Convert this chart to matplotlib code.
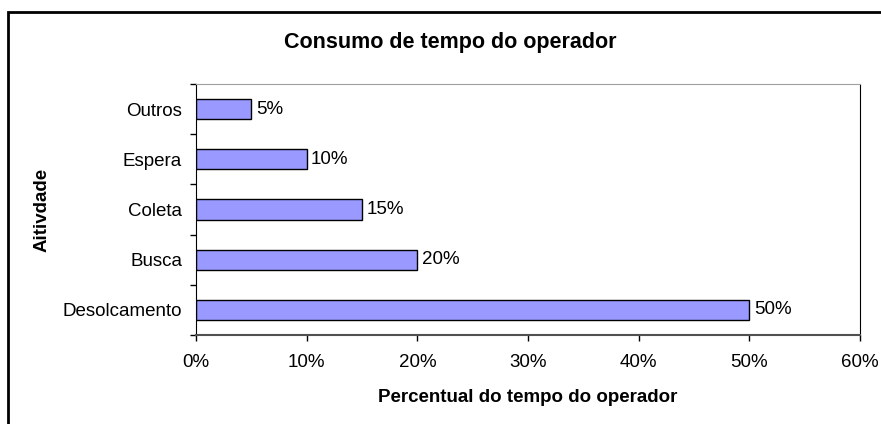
import matplotlib
matplotlib.use("Agg")
import matplotlib.pyplot as plt
from matplotlib.patches import Rectangle
from matplotlib.ticker import FuncFormatter

plt.rcParams['font.family'] = ['Liberation Sans', 'DejaVu Sans']

# data (bottom to top)
activities = ['Desolcamento', 'Busca', 'Coleta', 'Espera', 'Outros']
shares = [0.50, 0.20, 0.15, 0.10, 0.05]
xticks = [0, 0.1, 0.2, 0.3, 0.4, 0.5, 0.6]

fig = plt.figure(figsize=(8.81, 4.24), dpi=100)
W, H = 881, 424
ax = fig.add_axes([196 / W, 1 - 335 / H, (860 - 196) / W, (335 - 84) / H])

y = range(len(activities))
bars = ax.barh(y, shares, height=0.4, color='#9999ff', edgecolor='black', linewidth=1)
for b, v in zip(bars, shares):
    ax.text(b.get_width() + 0.004, b.get_y() + b.get_height() / 2, f'{v:.0%}',
            va='center', ha='left', fontsize=13.5)

ax.set_xlim(0, 0.6)
ax.set_ylim(-0.5, len(activities) - 0.5)
ax.set_xticks(xticks)
ax.xaxis.set_major_formatter(FuncFormatter(lambda v, p: f'{v:.0%}'))
ax.set_yticks(list(y))
ax.set_yticklabels(activities)
ax.set_yticks([i - 0.5 for i in range(len(activities) + 1)], minor=True)
ax.tick_params(axis='y', which='major', length=0, pad=10, labelsize=13.5)
ax.tick_params(axis='y', which='minor', length=4, width=1, direction='out')
ax.tick_params(axis='x', length=4, width=1, direction='out', pad=10, labelsize=13.5)

ax.spines['left'].set_color('black')
ax.spines['right'].set_color('black')
ax.spines['top'].set_color('#a0a0a0')
ax.spines['bottom'].set_color('#505050')
ax.spines['bottom'].set_linewidth(1.5)

ax.set_xlabel('Percentual do tempo do operador', fontweight='bold', fontsize=13.5, labelpad=13)
ax.set_ylabel('Aitivdade', fontweight='bold', fontsize=13.5, labelpad=9)

fig.text(450 / W, 1 - 48 / H, 'Consumo de tempo do operador',
         ha='center', va='baseline', fontweight='bold', fontsize=15.5)

# outer chart-area border (open to the right and bottom)
fig.add_artist(Rectangle((8 / W, -0.1), 1.2, 1 - 12 / H + 0.1, transform=fig.transFigure,
                         fill=False, edgecolor='black', linewidth=2, clip_on=False))

fig.savefig('out.png', dpi=100)
